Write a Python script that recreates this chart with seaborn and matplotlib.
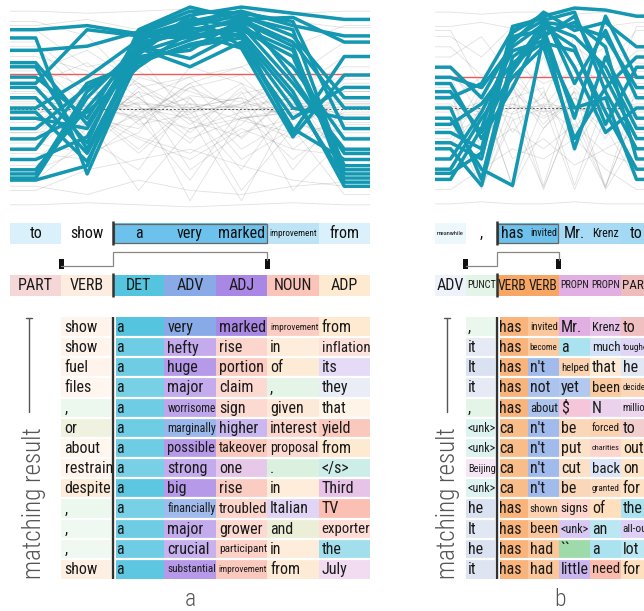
import numpy as np
import pandas as pd
import matplotlib
matplotlib.use("Agg")
import matplotlib.pyplot as plt
from matplotlib import font_manager as fm
from matplotlib.colors import to_rgb, ListedColormap
from matplotlib.patches import Rectangle
import seaborn as sns

W, H = 644, 611

# ---------------- panel a ----------------
a_tokens = ["to", "show", "a", "very", "marked", "improvement", "from"]
a_token_w = [0.25, 0.0, 1.0, 1.0, 1.0, 0.45, 0.25]
a_pos = ["PART", "VERB", "DET", "ADV", "ADJ", "NOUN", "ADP"]
a_pos_w = [0.45, 0.2, 1.0, 1.0, 1.0, 0.7, 0.5]
a_sel = (2, 5)
a_red = 0.665
a_mean = 0.495

a_teal = [
    [0.88, 0.90, 0.86, 0.95, 0.99, 0.96, 0.93],
    [0.62, 0.88, 0.85, 0.92, 0.97, 0.90, 0.85],
    [0.15, 0.22, 0.84, 0.90, 0.95, 0.85, 0.55],
    [0.16, 0.55, 0.80, 0.88, 0.92, 0.80, 0.14],
    [0.70, 0.30, 0.78, 0.93, 0.90, 0.62, 0.30],
    [0.45, 0.40, 0.82, 0.86, 0.94, 0.88, 0.20],
    [0.30, 0.62, 0.72, 0.81, 0.86, 0.38, 0.75],
    [0.20, 0.50, 0.79, 0.70, 0.82, 0.40, 0.25],
    [0.65, 0.45, 0.85, 0.84, 0.88, 0.75, 0.18],
    [0.55, 0.28, 0.76, 0.95, 0.80, 0.45, 0.60],
    [0.78, 0.80, 0.87, 0.97, 0.96, 0.92, 0.40],
    [0.40, 0.60, 0.74, 0.83, 0.91, 0.70, 0.35],
    [0.25, 0.36, 0.81, 0.89, 0.85, 0.55, 0.16],
    [0.84, 0.18, 0.75, 0.78, 0.93, 0.82, 0.50],
    [0.50, 0.65, 0.83, 0.91, 0.97, 0.65, 0.28],
    [0.35, 0.48, 0.70, 0.87, 0.79, 0.36, 0.66],
    [0.60, 0.33, 0.88, 0.99, 0.93, 0.94, 0.82],
    [0.18, 0.58, 0.77, 0.85, 0.89, 0.78, 0.22],
    [0.72, 0.42, 0.80, 0.74, 0.87, 0.58, 0.12],
    [0.48, 0.24, 0.73, 0.80, 0.84, 0.50, 0.45],
]

a_grey = [
    [0.50, 0.48, 0.52, 0.50, 0.49, 0.51, 0.50],
    [0.55, 0.45, 0.40, 0.60, 0.48, 0.52, 0.47],
    [0.30, 0.52, 0.45, 0.15, 0.50, 0.55, 0.40],
    [0.70, 0.60, 0.48, 0.55, 0.30, 0.45, 0.62],
    [0.45, 0.35, 0.60, 0.42, 0.58, 0.20, 0.50],
    [0.62, 0.72, 0.55, 0.35, 0.45, 0.48, 0.30],
    [0.40, 0.50, 0.30, 0.52, 0.10, 0.40, 0.55],
    [0.20, 0.30, 0.50, 0.48, 0.52, 0.60, 0.70],
    [0.80, 0.55, 0.52, 0.05, 0.46, 0.35, 0.45],
    [0.52, 0.40, 0.65, 0.58, 0.50, 0.72, 0.58],
    [0.35, 0.62, 0.42, 0.47, 0.62, 0.50, 0.20],
    [0.58, 0.47, 0.35, 0.25, 0.40, 0.30, 0.48],
    [0.10, 0.20, 0.25, 0.30, 0.22, 0.15, 0.12],
    [0.92, 0.85, 0.60, 0.65, 0.70, 0.80, 0.90],
    [0.47, 0.55, 0.50, 0.45, 0.05, 0.52, 0.53],
    [0.65, 0.40, 0.58, 0.50, 0.55, 0.10, 0.35],
    [0.25, 0.45, 0.10, 0.40, 0.45, 0.48, 0.60],
    [0.75, 0.68, 0.45, 0.62, 0.35, 0.58, 0.75],
    [0.53, 0.51, 0.49, 0.52, 0.50, 0.47, 0.51],
    [0.43, 0.58, 0.55, 0.38, 0.60, 0.42, 0.38],
    [0.97, 0.96, 0.97, 0.98, 0.97, 0.96, 0.97],
    [0.03, 0.04, 0.03, 0.02, 0.03, 0.04, 0.03],
    [0.15, 0.35, 0.20, 0.55, 0.25, 0.40, 0.08],
    [0.88, 0.70, 0.75, 0.45, 0.52, 0.65, 0.82],
    [0.60, 0.50, 0.46, 0.40, 0.48, 0.25, 0.43],
    [0.38, 0.42, 0.55, 0.65, 0.45, 0.50, 0.52],
    [0.57, 0.52, 0.44, 0.56, 0.53, 0.46, 0.55],
    [0.33, 0.28, 0.38, 0.70, 0.62, 0.30, 0.27],
    [0.68, 0.78, 0.62, 0.48, 0.20, 0.55, 0.66],
    [0.46, 0.66, 0.51, 0.33, 0.57, 0.62, 0.42],
    [0.82, 0.62, 0.68, 0.52, 0.44, 0.38, 0.58],
    [0.22, 0.40, 0.58, 0.20, 0.38, 0.45, 0.30],
    [0.49, 0.44, 0.53, 0.49, 0.51, 0.55, 0.46],
    [0.60, 0.36, 0.47, 0.60, 0.66, 0.40, 0.64],
    [0.12, 0.08, 0.15, 0.10, 0.08, 0.12, 0.14],
    [0.90, 0.93, 0.88, 0.91, 0.90, 0.92, 0.89],
    [0.38, 0.56, 0.62, 0.44, 0.36, 0.58, 0.22],
    [0.54, 0.49, 0.28, 0.50, 0.55, 0.44, 0.60],
    [0.72, 0.50, 0.36, 0.28, 0.42, 0.66, 0.52],
    [0.28, 0.25, 0.44, 0.62, 0.70, 0.52, 0.36],
]

a_words = [
    ["show", "a", "very", "marked", "improvement", "from"],
    ["show", "a", "hefty", "rise", "in", "inflation"],
    ["fuel", "a", "huge", "portion", "of", "its"],
    ["files", "a", "major", "claim", ",", "they"],
    [",", "a", "worrisome", "sign", "given", "that"],
    ["or", "a", "marginally", "higher", "interest", "yield"],
    ["about", "a", "possible", "takeover", "proposal", "from"],
    ["restrain", "a", "strong", "one", ".", "</s>"],
    ["despite", "a", "big", "rise", "in", "Third"],
    [",", "a", "financially", "troubled", "Italian", "TV"],
    [",", "a", "major", "grower", "and", "exporter"],
    [",", "a", "crucial", "participant", "in", "the"],
    ["show", "a", "substantial", "improvement", "from", "July"],
]
a_tags = [
    ["VERB", "DET", "ADV", "ADJ", "NOUN", "ADP"],
    ["VERB", "DET", "ADJ", "NOUN", "ADP", "NOUN"],
    ["VERB", "DET", "ADJ", "NOUN", "ADP", "ADJ"],
    ["VERB", "DET", "ADJ", "NOUN", "PUNCT", "PRON"],
    ["PUNCT", "DET", "ADJ", "NOUN", "VERB", "ADP"],
    ["CCONJ", "DET", "ADV", "ADJ", "NOUN", "NOUN"],
    ["ADP", "DET", "ADJ", "NOUN", "NOUN", "ADP"],
    ["VERB", "DET", "ADJ", "NUM", "PUNCT", "X"],
    ["ADP", "DET", "ADJ", "NOUN", "ADP", "PROPN"],
    ["PUNCT", "DET", "ADV", "NOUN", "ADJ", "NOUN"],
    ["PUNCT", "DET", "ADJ", "NOUN", "CCONJ", "NOUN"],
    ["PUNCT", "DET", "ADJ", "NOUN", "ADP", "DET"],
    ["VERB", "DET", "ADJ", "NOUN", "ADP", "PROPN"],
]
a_wts = [
    [0.12, 1.00, 1.00, 1.00, 0.60, 0.50],
    [0.12, 0.85, 0.70, 0.50, 0.40, 0.35],
    [0.12, 0.85, 0.85, 0.60, 0.45, 0.30],
    [0.10, 0.80, 0.70, 0.45, 0.25, 0.30],
    [0.18, 0.85, 0.75, 0.45, 0.25, 0.25],
    [0.40, 0.85, 0.85, 0.60, 0.50, 0.65],
    [0.20, 0.85, 0.85, 0.65, 0.45, 0.50],
    [0.12, 0.80, 0.70, 0.60, 0.35, 0.45],
    [0.40, 0.95, 0.85, 0.60, 0.40, 0.60],
    [0.18, 0.80, 0.80, 0.50, 0.35, 0.75],
    [0.15, 0.85, 0.70, 0.45, 0.50, 0.40],
    [0.15, 0.85, 0.65, 0.55, 0.40, 0.55],
    [0.18, 0.95, 0.85, 0.65, 0.45, 0.35],
]

# ---------------- panel b ----------------
b_tokens = ["meanwhile", ",", "has", "invited", "Mr.", "Krenz", "to"]
b_token_w = [0.12, 0.0, 1.0, 1.0, 0.6, 0.6, 0.62]
b_pos = ["ADV", "PUNCT", "VERB", "VERB", "PROPN", "PROPN", "PART"]
b_pos_w = [0.15, 0.25, 1.0, 1.0, 0.8, 0.8, 0.75]
b_sel = (2, 4)
b_red = 0.65
b_mean = 0.50

b_teal = [
    [0.55, 0.62, 0.88, 0.95, 0.99, 0.98, 0.95],
    [0.30, 0.12, 0.70, 0.92, 0.90, 0.85, 0.60],
    [0.15, 0.40, 0.85, 0.88, 0.30, 0.75, 0.45],
    [0.62, 0.35, 0.60, 0.90, 0.80, 0.42, 0.70],
    [0.45, 0.20, 0.12, 0.85, 0.95, 0.65, 0.35],
    [0.70, 0.55, 0.82, 0.97, 0.88, 0.92, 0.80],
    [0.25, 0.48, 0.78, 0.83, 0.50, 0.55, 0.15],
    [0.38, 0.30, 0.90, 0.94, 0.70, 0.38, 0.50],
    [0.50, 0.15, 0.75, 0.86, 0.92, 0.80, 0.25],
    [0.20, 0.45, 0.65, 0.80, 0.35, 0.60, 0.75],
    [0.65, 0.60, 0.80, 0.91, 0.85, 0.70, 0.40],
    [0.33, 0.25, 0.87, 0.96, 0.62, 0.88, 0.55],
    [0.42, 0.52, 0.72, 0.82, 0.78, 0.48, 0.20],
    [0.58, 0.38, 0.68, 0.89, 0.45, 0.95, 0.65],
    [0.18, 0.28, 0.84, 0.93, 0.97, 0.58, 0.30],
]

b_grey = [
    [0.50, 0.48, 0.50, 0.51, 0.49, 0.50, 0.49],
    [0.60, 0.12, 0.55, 0.10, 0.50, 0.12, 0.48],
    [0.40, 0.55, 0.12, 0.52, 0.10, 0.45, 0.55],
    [0.70, 0.45, 0.60, 0.40, 0.55, 0.35, 0.62],
    [0.85, 0.75, 0.90, 0.65, 0.80, 0.70, 0.88],
    [0.30, 0.50, 0.45, 0.11, 0.48, 0.52, 0.20],
    [0.55, 0.65, 0.38, 0.58, 0.30, 0.55, 0.45],
    [0.45, 0.10, 0.48, 0.55, 0.45, 0.11, 0.50],
    [0.97, 0.96, 0.97, 0.97, 0.96, 0.97, 0.96],
    [0.03, 0.04, 0.03, 0.03, 0.04, 0.03, 0.03],
    [0.25, 0.35, 0.52, 0.45, 0.52, 0.40, 0.15],
    [0.65, 0.55, 0.50, 0.75, 0.40, 0.60, 0.50],
    [0.52, 0.40, 0.70, 0.48, 0.62, 0.48, 0.42],
    [0.35, 0.62, 0.25, 0.35, 0.22, 0.30, 0.38],
    [0.75, 0.85, 0.65, 0.50, 0.70, 0.80, 0.72],
    [0.10, 0.20, 0.30, 0.25, 0.35, 0.20, 0.10],
    [0.48, 0.53, 0.47, 0.52, 0.50, 0.49, 0.51],
    [0.88, 0.60, 0.80, 0.55, 0.85, 0.50, 0.90],
    [0.56, 0.44, 0.58, 0.46, 0.55, 0.44, 0.57],
    [0.32, 0.58, 0.11, 0.40, 0.58, 0.10, 0.35],
    [0.66, 0.30, 0.62, 0.12, 0.60, 0.40, 0.68],
    [0.42, 0.48, 0.55, 0.60, 0.12, 0.55, 0.45],
    [0.80, 0.66, 0.72, 0.62, 0.68, 0.64, 0.78],
    [0.20, 0.30, 0.40, 0.30, 0.42, 0.28, 0.22],
    [0.51, 0.49, 0.52, 0.48, 0.51, 0.50, 0.52],
    [0.90, 0.92, 0.89, 0.93, 0.91, 0.90, 0.92],
    [0.58, 0.11, 0.44, 0.50, 0.40, 0.11, 0.60],
    [0.38, 0.44, 0.62, 0.42, 0.58, 0.46, 0.30],
]

b_words = [
    [",", "has", "invited", "Mr.", "Krenz", "to"],
    ["it", "has", "become", "a", "much", "tougher"],
    ["It", "has", "n't", "helped", "that", "he"],
    ["it", "has", "not", "yet", "been", "decided"],
    [",", "has", "about", "$", "N", "million"],
    ["<unk>", "ca", "n't", "be", "forced", "to"],
    ["<unk>", "ca", "n't", "put", "charities", "out"],
    ["Beijing", "ca", "n't", "cut", "back", "on"],
    ["<unk>", "ca", "n't", "be", "granted", "for"],
    ["he", "has", "shown", "signs", "of", "the"],
    ["It", "has", "been", "<unk>", "an", "all-out"],
    ["he", "has", "had", "``", "a", "lot"],
    ["it", "has", "had", "little", "need", "for"],
]
b_tags = [
    ["PUNCT", "VERB", "VERB", "PROPN", "PROPN", "PART"],
    ["PRON", "VERB", "VERB", "DET", "ADV", "ADJ"],
    ["PRON", "VERB", "ADV", "VERB", "ADP", "PRON"],
    ["PRON", "VERB", "ADV", "ADV", "VERB", "VERB"],
    ["PUNCT", "VERB", "ADV", "SYM", "NUM", "NUM"],
    ["X", "VERB", "ADV", "VERB", "VERB", "PART"],
    ["X", "VERB", "ADV", "VERB", "NOUN", "ADP"],
    ["PROPN", "VERB", "ADV", "VERB", "ADV", "ADP"],
    ["X", "VERB", "ADV", "VERB", "VERB", "ADP"],
    ["PRON", "VERB", "VERB", "NOUN", "ADP", "DET"],
    ["PRON", "VERB", "VERB", "ADJ", "DET", "ADJ"],
    ["PRON", "VERB", "VERB", "PUNCT", "DET", "DET"],
    ["PRON", "VERB", "VERB", "ADJ", "NOUN", "ADP"],
]
b_wts = [
    [0.20, 0.85, 0.65, 0.80, 0.60, 0.70],
    [0.35, 0.85, 0.60, 0.50, 0.35, 0.35],
    [0.50, 0.85, 0.80, 0.50, 0.45, 0.40],
    [0.35, 0.85, 0.70, 0.65, 0.60, 0.45],
    [0.25, 0.85, 0.70, 0.60, 0.50, 0.45],
    [0.30, 0.75, 0.80, 0.45, 0.50, 0.55],
    [0.30, 0.75, 0.80, 0.35, 0.50, 0.60],
    [0.25, 0.75, 0.80, 0.35, 0.30, 0.60],
    [0.30, 0.75, 0.80, 0.45, 0.40, 0.65],
    [0.50, 0.85, 0.50, 0.50, 0.70, 0.50],
    [0.40, 0.85, 0.65, 0.45, 0.40, 0.40],
    [0.50, 0.85, 0.65, 0.90, 0.50, 0.40],
    [0.45, 0.85, 0.65, 0.60, 0.80, 0.70],
]

POS_COLORS = {
    "DET": "#55c4df", "ADV": "#88aae7", "ADJ": "#a987e5", "NOUN": "#f9ab99",
    "ADP": "#fdd3a3", "PART": "#eaa5a5", "VERB": "#f7a763", "PROPN": "#d99bd9",
    "PUNCT": "#93d6a0", "PRON": "#b5c4e2", "CCONJ": "#d6dfb0", "NUM": "#d7a3d9",
    "SYM": "#ef9fc0", "X": "#8fd8cf",
}
TOKEN_BLUE = "#6cc2ec"
TEAL = "#1497b0"
FS = 11.5

sns.set_theme(style="white")
names = {f.name for f in fm.fontManager.ttflist}
base_font = "Roboto Condensed" if "Roboto Condensed" in names else "Roboto"
plt.rcParams["font.family"] = [base_font, "DejaVu Sans"]

fig = plt.figure(figsize=(W / 100, H / 100), dpi=100)
fig.patch.set_facecolor("white")
renderer = fig.canvas.get_renderer()


def add_px(x0, y0, x1, y1):
    return fig.add_axes([x0 / W, 1 - y1 / H, (x1 - x0) / W, (y1 - y0) / H])


def blend(color, w):
    c = np.array(to_rgb(color))
    return tuple(1 - w * (1 - c))


def fit_text(ax, x, y, s, size, maxw, **kw):
    t = ax.text(x, y, s, fontsize=size, parse_math=False, **kw)
    bb = t.get_window_extent(renderer)
    if bb.width > maxw:
        t.set_fontsize(size * maxw / bb.width)
    return t


def parallel(box, teal, grey, red, mean):
    ax = add_px(*box)
    rows = []
    for kind, lines in (("grey", grey), ("teal", teal)):
        for i, vals in enumerate(lines):
            xs = [-0.5] + list(range(len(vals))) + [len(vals) - 0.5]
            ys = [vals[0]] + list(vals) + [vals[-1]]
            for x, y in zip(xs, ys):
                rows.append((kind, i, x, y))
    df = pd.DataFrame(rows, columns=["kind", "line", "pos", "val"])
    sns.lineplot(data=df[df.kind == "grey"], x="pos", y="val", units="line",
                 estimator=None, sort=False, color="#777777", lw=0.6,
                 alpha=0.22, ax=ax)
    ax.axhline(mean, color="#333333", lw=0.7, ls=(0, (2, 2)), alpha=0.8)
    ax.axhline(red, color="#f05a5a", lw=1.0, zorder=2)
    sns.lineplot(data=df[df.kind == "teal"], x="pos", y="val", units="line",
                 estimator=None, sort=False, color=TEAL, lw=2.5, ax=ax,
                 zorder=3)
    ax.set_xlim(-0.5, 6.5)
    ax.set_ylim(0, 1)
    ax.axis("off")


def rows_and_bracket(ov, x0, cw, tokens, token_w, pos, pos_w, sel):
    s0, s1 = sel
    for i, (tok, w) in enumerate(zip(tokens, token_w)):
        xl = x0 + i * cw
        ov.add_patch(Rectangle((xl, 223), cw, 20.5, fc=blend(TOKEN_BLUE, w), ec="none"))
        fit_text(ov, xl + cw / 2, 233.5, tok, FS, cw - 4, ha="center", va="center",
                 color="#111111")
    ov.add_patch(Rectangle((x0 + s0 * cw + 1, 224), (s1 - s0) * cw - 1.5, 18.5,
                           fc="none", ec="#666666", lw=0.9))
    ov.plot([x0 + s0 * cw] * 2, [221, 245], color="#333333", lw=1.8,
            solid_capstyle="butt")
    # bracket linking context and selection
    bx = [x0 + (s0 - 1) * cw, x0 + s0 * cw, x0 + s0 * cw, x0 + s1 * cw, x0 + s1 * cw]
    by = [265.5, 265.5, 252, 252, 260]
    ov.plot(bx, by, color="#888888", lw=0.9)
    for b in (s0 - 1, s1):
        ov.add_patch(Rectangle((x0 + b * cw - 2.5, 259), 5, 10, fc="#111111", ec="none"))
    for i, (tag, w) in enumerate(zip(pos, pos_w)):
        xl = x0 + i * cw
        ov.add_patch(Rectangle((xl, 275), cw, 20.5, fc=blend(POS_COLORS[tag], w), ec="none"))
        fit_text(ov, xl + cw / 2, 285.5, tag, FS, cw - 2, ha="center", va="center",
                 color="#1a1a1a")
    ov.plot([x0 + s0 * cw] * 2, [273, 297], color="#333333", lw=1.8,
            solid_capstyle="butt")


def table(x0, cw, words, tags, wts):
    nrow, ncol = len(words), len(words[0])
    flat = [blend(POS_COLORS[t], w) for tr, wr in zip(tags, wts) for t, w in zip(tr, wr)]
    idx = np.arange(len(flat)).reshape(nrow, ncol)
    left = x0 + cw
    ax = add_px(left, 317, left + ncol * cw, 579)
    sns.heatmap(idx, cmap=ListedColormap(flat), vmin=-0.5, vmax=len(flat) - 0.5,
                cbar=False, xticklabels=False, yticklabels=False, ax=ax)
    for i in range(1, nrow):
        ax.axhline(i, color="white", lw=1.6)
    ax.axvline(1, color="white", lw=3.6)
    ax.axvline(1, color="#333333", lw=1.7)
    for i in range(nrow):
        for j in range(ncol):
            fit_text(ax, j + 0.06, i + 0.52, words[i][j], FS, cw - 3,
                     ha="left", va="center", color="#1a1a1a")
    ax.axis("off")


ov = fig.add_axes([0, 0, 1, 1])
ov.set_xlim(0, W)
ov.set_ylim(H, 0)
ov.axis("off")

parallel((10, 5, 370, 211), a_teal, a_grey, a_red, a_mean)
parallel((435, 6, 652, 210), b_teal, b_grey, b_red, b_mean)

rows_and_bracket(ov, 10, 360 / 7, a_tokens, a_token_w, a_pos, a_pos_w, a_sel)
rows_and_bracket(ov, 435, 31, b_tokens, b_token_w, b_pos, b_pos_w, b_sel)

table(10, 360 / 7, a_words, a_tags, a_wts)
table(435, 31, b_words, b_tags, b_wts)

# "matching result" axis labels
for lx, tx in ((29, 34), (447, 448)):
    ov.plot([lx, lx], [318, 412], color="#555555", lw=1)
    ov.plot([lx - 3, lx + 3], [318, 318], color="#555555", lw=1)
    ov.text(tx, 579, "matching result", rotation=90, ha="center", va="bottom",
            fontsize=18, color="#555555", fontweight="light")

ov.text(190, 606, "a", ha="center", va="baseline", fontsize=17, color="#555555",
        fontweight="light")
ov.text(560, 606, "b", ha="center", va="baseline", fontsize=17, color="#555555",
        fontweight="light")

fig.savefig("out.png", dpi=100, facecolor="white")
